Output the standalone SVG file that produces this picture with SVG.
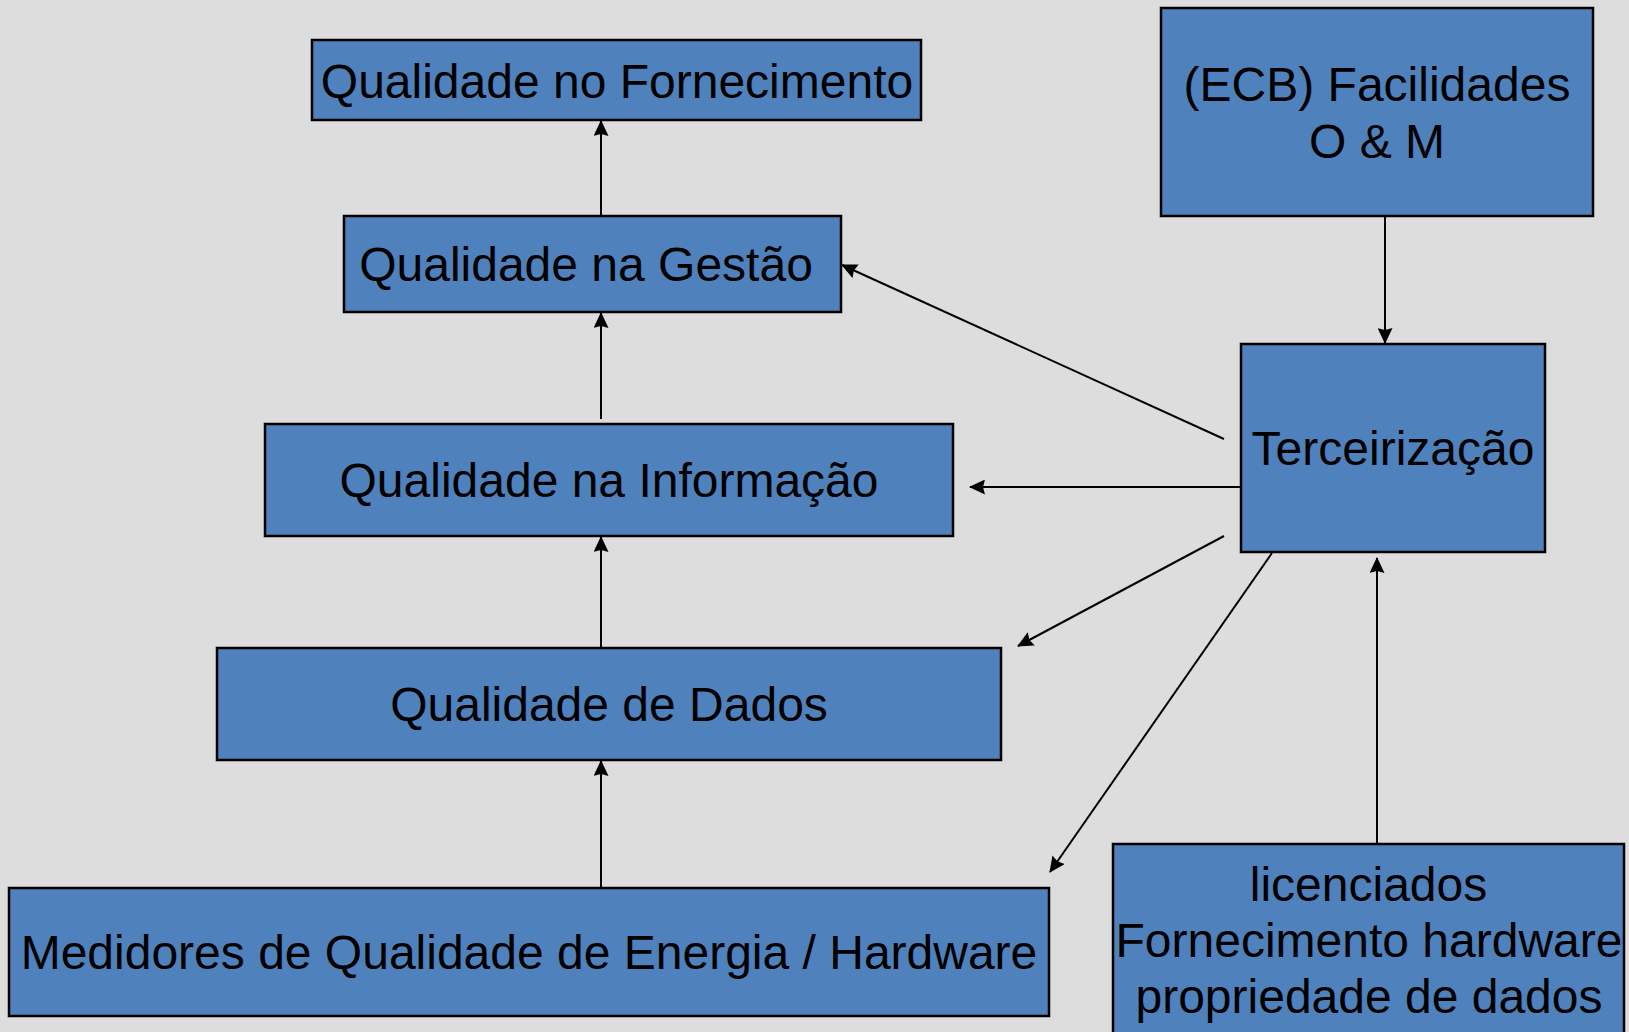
<svg xmlns="http://www.w3.org/2000/svg" width="1629" height="1032" viewBox="0 0 1629 1032">
<style>
.box{fill:#4F81BD;stroke:#000;stroke-width:2.5}
.t{font-family:"Liberation Sans",Arial,sans-serif;font-size:48px;fill:#000;text-anchor:middle}
.c{stroke:#000;stroke-width:2;fill:none;marker-end:url(#ah)}
</style>
<defs>
<marker id="ah" markerUnits="userSpaceOnUse" markerWidth="16" markerHeight="15" refX="15" refY="7.5" orient="auto">
<path d="M0,0 L16,7.5 L0,15 L2,7.5 z" fill="#000"/>
</marker>
</defs>
<rect width="1629" height="1032" fill="#DDDDDD"/>
<g id="connectors">
<line class="c" x1="601" y1="216" x2="601" y2="121"/>
<line class="c" x1="601" y1="419" x2="601" y2="313"/>
<line class="c" x1="601" y1="648" x2="601" y2="537"/>
<line class="c" x1="601" y1="888" x2="601" y2="761"/>
<line class="c" x1="1385" y1="216" x2="1385" y2="343"/>
<line class="c" x1="1224" y1="439" x2="842" y2="265"/>
<line class="c" x1="1240" y1="487" x2="970" y2="487"/>
<line class="c" x1="1224" y1="536" x2="1018" y2="646"/>
<line class="c" x1="1272" y1="553" x2="1050" y2="872"/>
<line class="c" x1="1377" y1="844" x2="1377" y2="558"/>
</g>
<g id="fornecimento"><rect class="box" x="312" y="40" width="609" height="80"/><text class="t" x="617" y="98">Qualidade no Fornecimento</text></g>
<g id="gestao"><rect class="box" x="344" y="216" width="497" height="96"/><text class="t" x="586" y="281">Qualidade na Gestão</text></g>
<g id="informacao"><rect class="box" x="265" y="424" width="688" height="112"/><text class="t" x="609" y="497">Qualidade na Informação</text></g>
<g id="dados"><rect class="box" x="217" y="648" width="784" height="112"/><text class="t" x="609" y="721">Qualidade de Dados</text></g>
<g id="medidores"><rect class="box" x="9" y="888" width="1040" height="128"/><text class="t" x="529" y="969">Medidores de Qualidade de Energia / Hardware</text></g>
<g id="ecb"><rect class="box" x="1161" y="8" width="432" height="208"/><text class="t" x="1377" y="101">(ECB) Facilidades</text><text class="t" x="1377" y="158">O &amp; M</text></g>
<g id="terceirizacao"><rect class="box" x="1241" y="344" width="304" height="208"/><text class="t" x="1393" y="465">Terceirização</text></g>
<g id="licenciados"><rect class="box" x="1113" y="844" width="511" height="200"/><text class="t" x="1368.5" y="901">licenciados</text><text class="t" x="1369" y="957">Fornecimento hardware</text><text class="t" x="1369" y="1013">propriedade de dados</text></g>
</svg>
